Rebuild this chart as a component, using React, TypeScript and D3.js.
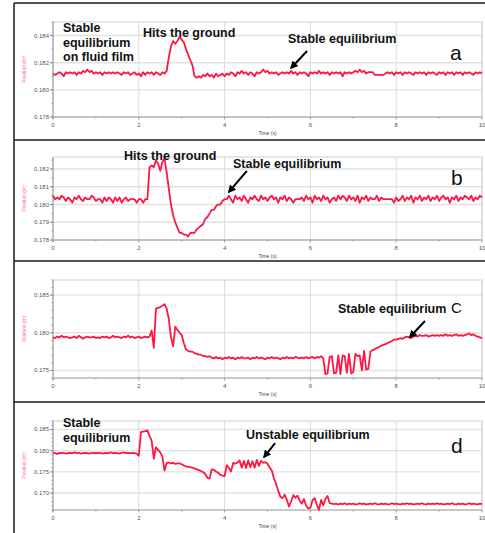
import { useRef, useEffect } from 'react';
import * as d3 from 'd3';

const WIDTH = 485;
const HEIGHT = 533;
const SAMPLE_STEP = 0.05; // logger interval, s
const X_TICKS = [0, 2, 4, 6, 8, 10];
const X_MINOR = [1, 3, 5, 7, 9];

// position readings in mm, one per sample (0 .. 10 s)
const POSITION_A = [
  181.2, 181.1, 181.2, 181.3, 181.2, 181.0, 181.3, 181.2, 181.3, 181.2, 181.3, 181.1, 181.3, 181.2, 181.4, 181.3, 181.5, 181.3, 181.4, 181.2,
  181.3, 181.2, 181.3, 181.1, 181.3, 181.2, 181.3, 181.2, 181.3, 181.2, 181.3, 181.2, 181.1, 181.3, 181.2, 181.3, 181.1, 181.2, 181.3, 181.1,
  181.2, 181.0, 181.3, 181.1, 181.3, 181.2, 181.3, 181.1, 181.3, 181.2, 181.1, 181.3, 181.2, 181.4, 182.4, 183.2, 183.6, 183.4, 183.6, 183.9,
  183.7, 183.5, 183.0, 182.6, 182.2, 181.8, 181.0, 180.9, 181.0, 180.9, 181.1, 181.0, 181.2, 181.0, 181.1, 180.9, 181.2, 181.0, 181.1, 181.2,
  181.0, 181.2, 181.1, 181.3, 181.2, 181.0, 181.3, 181.2, 181.4, 181.2, 181.3, 181.1, 181.3, 181.2, 181.0, 181.3, 181.2, 181.3, 181.5, 181.3,
  181.4, 181.2, 181.3, 181.2, 181.3, 181.1, 181.2, 181.3, 181.2, 181.3, 181.2, 181.4, 181.2, 181.3, 181.1, 181.3, 181.2, 181.3, 181.2, 181.0,
  181.3, 181.2, 181.3, 181.2, 181.4, 181.2, 181.3, 181.2, 181.3, 181.1, 181.3, 181.2, 181.3, 181.2, 181.3, 181.0, 181.3, 181.2, 181.3, 181.2,
  181.3, 181.4, 181.3, 181.5, 181.3, 181.4, 181.2, 181.3, 181.3, 181.3, 181.1, 181.1, 181.1, 181.1, 181.1, 181.2, 181.3, 181.2, 181.3, 181.1,
  181.3, 181.2, 181.3, 181.1, 181.3, 181.2, 181.3, 181.2, 181.1, 181.3, 181.2, 181.3, 181.2, 181.3, 181.1, 181.3, 181.2, 181.3, 181.2, 181.1,
  181.3, 181.2, 181.3, 181.1, 181.3, 181.2, 181.3, 181.1, 181.3, 181.2, 181.3, 181.1, 181.3, 181.2, 181.3, 181.2, 181.1, 181.3, 181.2, 181.3, 181.2,
];

const POSITION_B = [
  180.5, 180.3, 180.4, 180.3, 180.5, 180.4, 180.2, 180.4, 180.3, 180.1, 180.4, 180.3, 180.5, 180.3, 180.2, 180.4, 180.3, 180.3, 180.5, 180.4,
  180.2, 180.3, 180.3, 180.1, 180.4, 180.2, 180.4, 180.3, 180.1, 180.4, 180.2, 180.4, 180.1, 180.3, 180.4, 180.2, 180.3, 180.3, 180.3, 180.1,
  180.3, 180.3, 180.1, 180.3, 180.3, 182.1, 182.2, 182.1, 182.5, 182.3, 181.9, 182.4, 182.6, 181.8, 180.9, 180.0, 179.4, 179.0, 178.7, 178.4,
  178.4, 178.3, 178.3, 178.2, 178.4, 178.4, 178.4, 178.6, 178.7, 178.8, 178.9, 179.2, 179.3, 179.5, 179.7, 179.7, 179.9, 180.0, 180.0, 180.2,
  180.3, 180.3, 180.5, 180.3, 180.1, 180.5, 180.3, 180.4, 180.2, 180.5, 180.3, 180.1, 180.4, 180.3, 180.5, 180.3, 180.2, 180.5, 180.3, 180.4,
  180.2, 180.4, 180.5, 180.3, 180.4, 180.1, 180.4, 180.3, 180.5, 180.2, 180.4, 180.3, 180.1, 180.3, 180.3, 180.3, 180.4, 180.2, 180.5, 180.3,
  180.4, 180.1, 180.5, 180.3, 180.4, 180.2, 180.5, 180.3, 180.4, 180.1, 180.3, 180.4, 180.2, 180.5, 180.3, 180.5, 180.4, 180.2, 180.5, 180.3,
  180.4, 180.2, 180.5, 180.1, 180.4, 180.3, 180.5, 180.2, 180.4, 180.3, 180.3, 180.5, 180.2, 180.4, 180.3, 180.3, 180.3, 180.3, 180.3, 180.1,
  180.4, 180.2, 180.3, 180.5, 180.2, 180.4, 180.3, 180.5, 180.1, 180.4, 180.3, 180.5, 180.2, 180.4, 180.3, 180.5, 180.2, 180.4, 180.3, 180.5,
  180.2, 180.4, 180.5, 180.3, 180.4, 180.1, 180.4, 180.3, 180.5, 180.2, 180.4, 180.3, 180.5, 180.4, 180.3, 180.5, 180.2, 180.4, 180.3, 180.5, 180.4,
];

const POSITION_C = [
  179.4, 179.3, 179.5, 179.4, 179.6, 179.4, 179.5, 179.4, 179.3, 179.4, 179.5, 179.3, 179.6, 179.4, 179.2, 179.4, 179.5, 179.4, 179.4, 179.5,
  179.3, 179.4, 179.3, 179.5, 179.4, 179.5, 179.3, 179.4, 179.6, 179.4, 179.5, 179.4, 179.3, 179.5, 179.4, 179.6, 179.4, 179.5, 179.3, 179.4,
  179.5, 179.3, 179.4, 179.5, 179.4, 179.5, 180.3, 178.0, 183.2, 183.3, 183.4, 183.6, 183.8, 183.2, 181.8, 179.4, 178.2, 180.8, 180.4, 180.0,
  179.7, 178.6, 177.8, 177.6, 177.5, 177.5, 177.3, 177.2, 177.1, 177.1, 176.9, 176.9, 176.8, 176.9, 176.7, 176.6, 176.8, 176.6, 176.7, 176.5,
  176.7, 176.6, 176.8, 176.6, 176.7, 176.5, 176.7, 176.6, 176.8, 176.6, 176.6, 176.7, 176.5, 176.7, 176.6, 176.8, 176.6, 176.7, 176.6, 176.5,
  176.7, 176.6, 176.8, 176.6, 176.7, 176.6, 176.5, 176.7, 176.6, 176.8, 176.6, 176.7, 176.6, 176.8, 176.7, 176.6, 176.7, 176.6, 176.8, 176.6,
  176.7, 176.8, 176.6, 176.8, 176.7, 176.9, 176.6, 174.5, 174.6, 176.8, 176.9, 174.6, 174.7, 177.0, 174.5, 177.0, 176.9, 174.7, 177.2, 174.6,
  174.8, 177.2, 176.9, 177.0, 175.0, 177.6, 175.1, 175.2, 177.5, 177.7, 177.8, 178.0, 178.1, 178.3, 178.4, 178.5, 178.6, 178.8, 178.9, 179.1,
  179.1, 179.2, 179.3, 179.2, 179.4, 179.5, 179.4, 179.3, 179.5, 179.6, 179.5, 179.7, 179.6, 179.6, 179.7, 179.5, 179.6, 179.7, 179.6, 179.7,
  179.6, 179.7, 179.6, 179.8, 179.6, 179.7, 179.6, 179.7, 179.8, 179.6, 179.7, 179.6, 179.7, 179.8, 179.9, 179.7, 179.8, 179.6, 179.5, 179.4, 179.3,
];

const POSITION_D = [
  179.5, 179.4, 179.2, 179.5, 179.4, 179.5, 179.3, 179.4, 179.5, 179.4, 179.6, 179.4, 179.5, 179.3, 179.4, 179.5, 179.4, 179.3, 179.5, 179.4,
  179.5, 179.4, 179.5, 179.3, 179.4, 179.5, 179.4, 179.6, 179.4, 179.5, 179.4, 179.3, 179.5, 179.6, 179.4, 179.5, 179.4, 179.5, 179.4, 179.3,
  178.8, 184.4, 184.5, 184.6, 184.8, 183.5, 182.3, 178.1, 180.8, 180.2, 179.6, 178.6, 175.3, 177.1, 177.2, 177.0, 177.1, 176.9, 177.0, 177.0,
  176.8, 176.5, 176.3, 176.2, 176.1, 176.0, 175.8, 175.6, 175.4, 175.2, 174.9, 174.5, 173.6, 173.4, 175.6, 175.5, 175.1, 174.8, 174.3, 174.1,
  174.0, 176.6, 175.9, 175.1, 177.1, 176.9, 177.2, 177.7, 176.0, 177.6, 175.9, 177.7, 176.1, 177.5, 176.0, 177.8, 176.4, 177.6, 177.1, 177.3,
  176.9, 176.0, 175.3, 173.5, 172.2, 170.5, 169.1, 168.8, 169.6, 168.4, 166.8, 168.0, 169.5, 168.9, 169.4, 168.2, 167.5, 168.6, 167.0, 166.4,
  166.5, 168.3, 168.8, 167.2, 166.0, 168.4, 167.1, 168.6, 169.3, 167.6, 167.5, 167.4, 167.5, 167.3, 167.5, 167.4, 167.6, 167.3, 167.5, 167.4,
  167.5, 167.3, 167.4, 167.6, 167.4, 167.5, 167.3, 167.4, 167.5, 167.4, 167.6, 167.4, 167.3, 167.5, 167.4, 167.5, 167.3, 167.4, 167.6, 167.4,
  167.5, 167.4, 167.3, 167.5, 167.4, 167.6, 167.4, 167.5, 167.3, 167.4, 167.5, 167.4, 167.6, 167.4, 167.3, 167.5, 167.4, 167.5, 167.4, 167.6,
  167.4, 167.5, 167.3, 167.4, 167.5, 167.4, 167.6, 167.4, 167.3, 167.5, 167.4, 167.5, 167.3, 167.4, 167.6, 167.4, 167.5, 167.4, 167.3, 167.5, 167.4,
];

const Y_TICKS_A = [0.178, 0.18, 0.182, 0.184];
const Y_TICKS_B = [0.178, 0.179, 0.18, 0.181, 0.182];
const Y_TICKS_C = [0.175, 0.18, 0.185];
const Y_TICKS_D = [0.17, 0.175, 0.18, 0.185];

const PLOT_LEFT = 53;
const PLOT_RIGHT = 482;
const FRAME_LEFT = 14;
const LINE_COLOR = '#ff1744';
const FONT = '"Liberation Sans", Arial, sans-serif';

const PANELS = [
  {
    values: POSITION_A, domain: [0.178, 0.185], ticks: Y_TICKS_A, minor: 0.001,
    frameTop: 3, top: 22, bottom: 117,
    notes: [
      { lines: ['Stable', 'equilibrium', 'on fluid film'], x: 63, y: 32 },
      { lines: ['Hits the ground'], x: 143, y: 36.5 },
      { lines: ['Stable equilibrium'], x: 288, y: 42.5 },
    ],
    arrow: { t: 5.55, v: 0.18161, dx: 16, dy: -17 },
    letter: { text: 'a', x: 450, y: 60, size: 21 },
  },
  {
    values: POSITION_B, domain: [0.178, 0.18268], ticks: Y_TICKS_B, minor: 0.0005,
    frameTop: 140, top: 157, bottom: 240,
    notes: [
      { lines: ['Hits the ground'], x: 124, y: 159.5 },
      { lines: ['Stable equilibrium'], x: 233, y: 167.5 },
    ],
    arrow: { t: 4.1, v: 0.18071, dx: 18, dy: -21 },
    letter: { text: 'b', x: 451, y: 185, size: 21 },
  },
  {
    values: POSITION_C, domain: [0.174, 0.187], ticks: Y_TICKS_C, minor: 0.001,
    frameTop: 261, top: 280, bottom: 378,
    notes: [{ lines: ['Stable equilibrium'], x: 338, y: 313 }],
    arrow: { t: 8.32, v: 0.17944, dx: 15, dy: -16 },
    letter: { text: 'C', x: 451, y: 312.5, size: 15 },
  },
  {
    values: POSITION_D, domain: [0.166, 0.187], ticks: Y_TICKS_D, minor: 0.001,
    frameTop: 402, top: 421, bottom: 510,
    notes: [
      { lines: ['Stable', 'equilibrium'], x: 63, y: 427 },
      { lines: ['Unstable equilibrium'], x: 246, y: 438.5 },
    ],
    arrow: { t: 4.92, v: 0.1785, dx: 11, dy: -14 },
    letter: { text: 'd', x: 451, y: 453, size: 21 },
  },
];

export default function App() {
  const svgRef = useRef<SVGSVGElement | null>(null);

  useEffect(() => {
    const svg = d3.select(svgRef.current);
    svg.selectAll('*').remove();

    svg.append('rect').attr('width', WIDTH).attr('height', HEIGHT).attr('fill', '#fff');

    svg.append('defs')
      .append('marker')
      .attr('id', 'arrowhead')
      .attr('viewBox', '0 0 10 10')
      .attr('refX', 8)
      .attr('refY', 5)
      .attr('markerUnits', 'userSpaceOnUse')
      .attr('markerWidth', 8)
      .attr('markerHeight', 8)
      .attr('orient', 'auto')
      .append('path')
      .attr('d', 'M0,0 L10,5 L0,10 z')
      .attr('fill', '#000');

    const x = d3.scaleLinear().domain([0, 10]).range([PLOT_LEFT, PLOT_RIGHT]);

    PANELS.forEach((p) => {
      const y = d3.scaleLinear().domain(p.domain).range([p.bottom, p.top]);
      const g = svg.append('g');

      // gridlines
      g.selectAll('.hgrid')
        .data(p.ticks)
        .join('line')
        .attr('x1', PLOT_LEFT).attr('x2', PLOT_RIGHT)
        .attr('y1', (d) => y(d)).attr('y2', (d) => y(d))
        .attr('stroke', '#e2e2e2').attr('stroke-width', 1.4);
      g.selectAll('.vgrid')
        .data(X_TICKS.slice(1))
        .join('line')
        .attr('x1', (d) => x(d)).attr('x2', (d) => x(d))
        .attr('y1', p.top).attr('y2', p.bottom)
        .attr('stroke', '#dadada').attr('stroke-width', 1);

      // plot frame
      g.append('rect')
        .attr('x', PLOT_LEFT).attr('y', p.top)
        .attr('width', PLOT_RIGHT - PLOT_LEFT).attr('height', p.bottom - p.top)
        .attr('fill', 'none').attr('stroke', '#cfcfcf').attr('stroke-width', 1);

      // axes
      g.append('line')
        .attr('x1', PLOT_LEFT).attr('x2', PLOT_LEFT)
        .attr('y1', p.top).attr('y2', p.bottom + 2)
        .attr('stroke', '#999');
      g.append('line')
        .attr('x1', PLOT_LEFT).attr('x2', PLOT_RIGHT)
        .attr('y1', p.bottom).attr('y2', p.bottom)
        .attr('stroke', '#aaa');

      const minorTicks = d3.range(p.domain[0], p.domain[1] + 1e-9, p.minor);
      g.selectAll('.yminor')
        .data(minorTicks)
        .join('line')
        .attr('x1', PLOT_LEFT - 1.5).attr('x2', PLOT_LEFT)
        .attr('y1', (d) => y(d)).attr('y2', (d) => y(d))
        .attr('stroke', '#999');
      g.selectAll('.ymajor')
        .data(p.ticks)
        .join('line')
        .attr('x1', PLOT_LEFT - 3).attr('x2', PLOT_LEFT)
        .attr('y1', (d) => y(d)).attr('y2', (d) => y(d))
        .attr('stroke', '#888');
      g.selectAll('.ylabel')
        .data(p.ticks)
        .join('text')
        .attr('x', PLOT_LEFT - 4)
        .attr('y', (d) => y(d) + 2)
        .attr('text-anchor', 'end')
        .attr('font-family', FONT)
        .attr('font-size', 6)
        .attr('fill', '#555')
        .text((d) => d3.format('.3f')(d));

      g.selectAll('.xminor')
        .data(X_MINOR)
        .join('line')
        .attr('x1', (d) => x(d)).attr('x2', (d) => x(d))
        .attr('y1', p.bottom).attr('y2', p.bottom + 1.5)
        .attr('stroke', '#999');
      g.selectAll('.xmajor')
        .data(X_TICKS)
        .join('line')
        .attr('x1', (d) => x(d)).attr('x2', (d) => x(d))
        .attr('y1', p.bottom).attr('y2', p.bottom + 2.5)
        .attr('stroke', '#999');
      g.selectAll('.xlabel')
        .data(X_TICKS)
        .join('text')
        .attr('x', (d) => x(d))
        .attr('y', p.bottom + 10)
        .attr('text-anchor', 'middle')
        .attr('font-family', FONT)
        .attr('font-size', 6)
        .attr('fill', '#555')
        .text((d) => d);

      g.append('text')
        .attr('x', (PLOT_LEFT + PLOT_RIGHT) / 2)
        .attr('y', p.bottom + 18)
        .attr('text-anchor', 'middle')
        .attr('font-family', FONT)
        .attr('font-size', 5)
        .attr('fill', '#444')
        .text('Time (s)');

      g.append('text')
        .attr('transform', `translate(26,${(p.top + p.bottom) / 2}) rotate(-90)`)
        .attr('text-anchor', 'middle')
        .attr('font-family', FONT)
        .attr('font-size', 5)
        .attr('fill', '#ff6680')
        .text('Position (m)');

      // position trace
      const line = d3.line<number>()
        .x((_, i) => x(i * SAMPLE_STEP))
        .y((d) => y(d / 1000));
      g.append('path')
        .datum(p.values)
        .attr('d', line)
        .attr('fill', 'none')
        .attr('stroke', LINE_COLOR)
        .attr('stroke-width', 1.8)
        .attr('stroke-linejoin', 'round');

      // panel frame
      g.append('line')
        .attr('x1', FRAME_LEFT).attr('x2', WIDTH)
        .attr('y1', p.frameTop).attr('y2', p.frameTop)
        .attr('stroke', '#1a1a1a').attr('stroke-width', 1.5);

      // annotations
      p.notes.forEach((n) => {
        const t = g.append('text')
          .attr('font-family', FONT)
          .attr('font-weight', 'bold')
          .attr('font-size', 12.5)
          .attr('fill', '#111');
        n.lines.forEach((s, i) => {
          t.append('tspan').attr('x', n.x).attr('y', n.y + i * 14.5).text(s);
        });
      });

      const tipX = x(p.arrow.t);
      const tipY = y(p.arrow.v);
      g.append('line')
        .attr('x1', tipX + p.arrow.dx).attr('y1', tipY + p.arrow.dy)
        .attr('x2', tipX).attr('y2', tipY)
        .attr('stroke', '#000').attr('stroke-width', 2)
        .attr('marker-end', 'url(#arrowhead)');

      g.append('text')
        .attr('x', p.letter.x)
        .attr('y', p.letter.y)
        .attr('font-family', FONT)
        .attr('font-size', p.letter.size)
        .attr('fill', '#111')
        .text(p.letter.text);
    });

    svg.append('line')
      .attr('x1', FRAME_LEFT).attr('x2', FRAME_LEFT)
      .attr('y1', 3).attr('y2', HEIGHT)
      .attr('stroke', '#1a1a1a').attr('stroke-width', 1.5);
  }, []);

  return (
    <svg
      ref={svgRef}
      width={WIDTH}
      height={HEIGHT}
      style={{ position: 'absolute', left: 0, top: 0 }}
    />
  );
}
